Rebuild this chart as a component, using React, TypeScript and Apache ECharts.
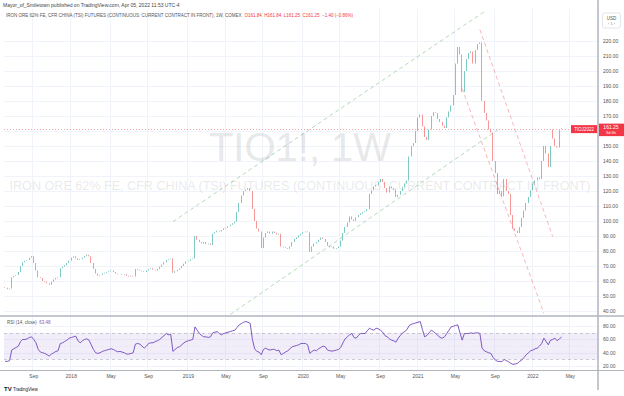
import { useEffect, useRef } from "react";
import * as echarts from "echarts";

// ---------- data ----------
const startWeek = "2017-06-05"; // Monday of first weekly bar
const emptyWeeksAfter = 16; // empty space to the right of the last bar

// weekly closes, TIO1! (USD/t)
const closes = [
  55.5, 54.5, 55.0, 62.5, 63.5, 64.0, 66.0, 70.0, 72.5, 73.5,
  74.0, 75.5, 76.5, 72.0, 67.0, 62.5, 62.0, 60.0, 59.5, 58.5,
  57.5, 59.5, 61.0, 62.0, 62.5, 68.5, 69.5, 70.5, 72.0, 73.5,
  75.5, 76.5, 75.0, 74.0, 74.5, 75.5, 76.5, 77.5, 76.5, 72.0,
  68.0, 65.0, 63.5, 64.0, 65.0, 65.5, 66.0, 66.5, 67.0, 66.0,
  65.0, 64.5, 64.5, 64.0, 64.5, 63.5, 63.0, 63.5, 63.0, 68.0,
  67.5, 67.0, 66.5, 66.0, 67.0, 68.0, 68.5, 67.5, 67.0, 68.0,
  69.5, 71.0, 72.5, 74.0, 74.5, 75.0, 65.5, 66.5, 67.5, 68.5,
  70.0, 71.5, 73.0, 73.5, 74.5, 75.0, 90.0, 87.5, 86.0, 85.0,
  86.0, 84.5, 85.0, 84.0, 91.5, 92.5, 93.5, 93.0, 94.0, 95.0,
  95.5, 96.5, 97.5, 98.5, 99.5, 106.0, 112.0, 117.0, 120.0, 121.0,
  122.0, 120.0, 108.0, 100.0, 95.0, 93.0, 82.0, 89.0, 92.0, 93.0,
  91.5, 93.0, 92.0, 91.0, 91.5, 83.0, 82.5, 82.0, 81.5, 83.0,
  86.0, 88.0, 89.0, 90.5, 91.5, 92.5, 93.0, 92.5, 79.5, 83.0,
  85.0, 86.0, 87.5, 89.0, 88.0, 86.0, 83.5, 82.5, 83.0, 81.5,
  82.0, 83.0, 87.0, 92.0, 96.0, 99.0, 103.0, 101.0, 100.0, 102.5,
  104.0, 105.0, 106.0, 106.5, 108.0, 118.0, 120.5, 123.0, 124.0, 126.0,
  128.0, 126.0, 122.0, 119.0, 123.0, 122.0, 121.0, 116.0, 117.5, 120.0,
  122.5, 125.0, 127.0, 143.0, 150.0, 152.0, 160.0, 169.0, 171.0, 163.0,
  156.0, 154.0, 161.0, 170.0, 172.5, 172.0, 168.0, 166.0, 163.5, 162.0,
  169.0, 173.0, 177.0, 184.0, 205.0, 216.0, 211.0, 186.0, 200.0, 208.0,
  212.0, 213.0, 205.0, 214.0, 218.0, 219.0, 180.0, 172.0, 167.0, 161.0,
  159.0, 140.0, 132.0, 118.0, 120.0, 116.5, 128.0, 120.0, 118.0, 104.0,
  95.0, 93.5, 92.0, 96.0, 102.0, 107.0, 112.0, 116.0, 120.5, 125.0,
  127.0, 129.0, 128.0, 140.0, 150.0, 145.0, 136.0, 150.0, 155.0, 150.0,
  149.0, 160.5, 161.25,
];

// opens that gap away from the previous close (bar index -> open)
const openGaps: Record<number, number> = { 0: 56.0, 248: 161.0, 252: 161.84 };

// RSI(14, close)
const rsi = [
  27, 27, 28, 44, 46, 48, 50, 57, 60, 60,
  61, 63, 64, 60, 55, 45, 41, 40, 39, 37,
  35, 38, 40, 42, 43, 54, 55, 57, 59, 62,
  63, 64, 65, 58, 55, 58, 60, 61, 59, 52,
  45, 40, 39, 40, 42, 43, 44, 45, 46, 45,
  43, 41.5, 42, 41, 40, 38, 38, 39, 40, 53,
  54, 53, 50, 47, 50, 54, 55, 55, 57, 58,
  60, 63, 66, 69, 67, 68, 42, 45, 48, 49,
  52, 55, 57, 58, 59, 60, 79, 74, 69, 66,
  64, 64, 63, 64, 70, 71, 72, 69, 67, 69,
  70, 71, 72, 73, 74, 78, 82, 84, 86, 87,
  86, 84, 60, 46, 42, 41, 37, 45, 47, 45,
  44, 45, 45, 43, 44, 37, 39, 41, 43, 46,
  49, 50, 51, 52, 54, 54, 54, 52, 39, 42,
  44, 43, 46, 48, 50, 49, 44, 43, 42.5, 43,
  44, 45, 48, 55, 61, 64, 67, 69, 63, 62,
  66, 69, 69, 69, 73, 77, 75, 74, 77, 76,
  74, 71, 66, 64, 61, 59, 58, 56, 62, 66,
  70, 72, 75, 81, 83, 84, 85, 86, 87, 75,
  64, 66, 70, 74, 72, 69, 66, 63, 62, 64,
  69, 74, 79, 80, 81, 82, 70, 59, 69, 69,
  69, 70, 69, 70, 70, 69, 47, 43, 41.5, 40,
  39, 33, 29, 27, 27, 26.5, 30, 28, 26.5, 24,
  22.5, 23, 24, 27, 29, 33, 37, 40, 43, 44,
  46, 47, 50, 54, 62, 57, 52, 59, 60, 62,
  58, 61, 63.48,
];

const priceGridTicks = [40, 50, 60, 70, 80, 90, 100, 110, 120, 130, 140, 150, 160, 170, 180, 190, 200, 210, 220];
// 160.00 sits under the last-price label in the reference
const priceLabelTicks = [40, 50, 60, 70, 80, 90, 100, 110, 120, 130, 140, 150, 170, 180, 190, 200, 210, 220];
const rsiTicks = [20, 40, 60, 80];
const rsiBand = [30, 70];
const rsiMiddle = 50;
const monthNames = ["Jan", "Feb", "Mar", "Apr", "May", "Jun", "Jul", "Aug", "Sep", "Oct", "Nov", "Dec"];

// drawn trend lines: [bar index, price] -> [bar index, price]
const greenLines = [
  { from: [76, 99.6], to: [218, 240.5] },
  { from: [102, 37.7], to: [223, 160.7] },
];
const redLines = [
  { from: [207, 188.3], to: [244, 38.5] },
  { from: [215, 227.6], to: [248, 89.6] },
];

const lastPrice = 161.25;
const lastRsi = 63.48;

const FONT = "'Liberation Sans', Arial, sans-serif";

export default function App() {
  const ref = useRef<HTMLDivElement>(null);

  useEffect(() => {
    const el = ref.current!;
    const chart = echarts.init(el, undefined, { renderer: "svg" });

    const n = closes.length + emptyWeeksAfter;
    const t0 = Date.parse(startWeek + "T00:00:00Z");
    const dates = Array.from({ length: n }, (_, i) =>
      new Date(t0 + i * 7 * 86400000).toISOString().slice(0, 10)
    );
    const monthOf = (i: number) => +dates[i].slice(5, 7);
    const isLabel = (i: number) => {
      if (i <= 0) return false;
      const m = monthOf(i);
      return m !== monthOf(i - 1) && (m === 1 || m === 5 || m === 9);
    };
    const labelText = (v: string) => {
      const m = +v.slice(5, 7);
      return m === 1 ? v.slice(0, 4) : monthNames[m - 1];
    };

    const candles = closes.map((c, i) => {
      const o = openGaps[i] ?? closes[i - 1];
      return [o, c, Math.min(o, c), Math.max(o, c)];
    });

    const gridColor = "#f0f3fa";
    const lineItem = (l: { from: number[]; to: number[] }, color: string) => [
      { coord: l.from, lineStyle: { color, width: 1, type: [4, 3] } },
      { coord: l.to },
    ];

    chart.setOption({
      animation: false,
      textStyle: { fontFamily: FONT },
      grid: [
        { left: 4, right: 26, top: 9, height: 307 },
        { left: 4, right: 26, top: 316, height: 54 },
      ],
      xAxis: [
        {
          type: "category",
          gridIndex: 0,
          data: dates,
          boundaryGap: true,
          axisLine: { show: false },
          axisTick: { show: false },
          axisLabel: { show: false },
          splitLine: { show: true, interval: (i: number) => isLabel(i), lineStyle: { color: gridColor, width: 1 } },
        },
        {
          type: "category",
          gridIndex: 1,
          data: dates,
          boundaryGap: true,
          axisLine: { show: false },
          axisTick: { show: false },
          axisLabel: {
            show: true,
            interval: (i: number) => isLabel(i),
            formatter: labelText,
            fontSize: 5,
            color: "#555",
            margin: 3,
          },
          splitLine: { show: true, interval: (i: number) => isLabel(i), lineStyle: { color: gridColor, width: 1 } },
        },
      ],
      yAxis: [
        {
          type: "value",
          gridIndex: 0,
          position: "right",
          min: 36.67,
          max: 241.33,
          axisLine: { show: false },
          axisTick: { show: false, customValues: priceGridTicks },
          axisLabel: {
            customValues: priceLabelTicks,
            formatter: (v: number) => v.toFixed(2),
            fontSize: 5,
            color: "#555",
            margin: 5,
          },
          splitLine: { show: true, lineStyle: { color: gridColor, width: 1 } },
        },
        {
          type: "value",
          gridIndex: 1,
          position: "right",
          min: 14,
          max: 95.4,
          axisLine: { show: false },
          axisTick: { show: false, customValues: rsiTicks },
          axisLabel: {
            customValues: rsiTicks,
            formatter: (v: number) => v.toFixed(2),
            fontSize: 5,
            color: "#555",
            margin: 5,
          },
          splitLine: { show: true, lineStyle: { color: gridColor, width: 1 } },
        },
      ],
      series: [
        {
          type: "candlestick",
          xAxisIndex: 0,
          yAxisIndex: 0,
          data: candles,
          barWidth: 1.2,
          silent: true,
          itemStyle: {
            color: "#26a69a",
            color0: "#ef5350",
            borderColor: "#26a69a",
            borderColor0: "#ef5350",
            borderWidth: 0.6,
          },
          markLine: {
            silent: true,
            symbol: ["none", "none"],
            label: { show: false },
            data: [
              ...greenLines.map((l) => lineItem(l, "rgba(120,185,130,0.55)")),
              ...redLines.map((l) => lineItem(l, "rgba(240,110,120,0.5)")),
              { yAxis: lastPrice, lineStyle: { color: "rgba(242,54,69,0.45)", width: 1, type: [1, 2] } },
            ],
          },
        },
        {
          type: "line",
          xAxisIndex: 1,
          yAxisIndex: 1,
          data: rsi,
          showSymbol: false,
          silent: true,
          lineStyle: { color: "#7e57c2", width: 1 },
          markArea: {
            silent: true,
            itemStyle: { color: "rgba(126,87,194,0.1)" },
            data: [[{ yAxis: rsiBand[0] }, { yAxis: rsiBand[1] }]],
          },
          markLine: {
            silent: true,
            symbol: ["none", "none"],
            label: { show: false },
            data: [
              { yAxis: rsiBand[1], lineStyle: { color: "rgba(120,123,134,0.5)", width: 0.7, type: [3, 3] } },
              { yAxis: rsiBand[0], lineStyle: { color: "rgba(120,123,134,0.5)", width: 0.7, type: [3, 3] } },
              { yAxis: rsiMiddle, lineStyle: { color: "rgba(120,123,134,0.15)", width: 0.7, type: [1, 2] } },
            ],
          },
        },
      ],
    });

    const [, yLast] = chart.convertToPixel({ gridIndex: 0 }, [closes.length - 1, lastPrice]) as number[];
    const grey = "#b2b5be";

    chart.setOption({
      graphic: [
        // watermark
        {
          type: "text",
          x: 300,
          y: 147,
          z: 1,
          silent: true,
          style: { text: "TIO1!, 1W", fontSize: 40, fontFamily: FONT, fill: "rgba(150,155,165,0.24)", align: "center", verticalAlign: "middle" },
        },
        {
          type: "text",
          x: 300,
          y: 186,
          z: 1,
          silent: true,
          style: {
            text: "IRON ORE 62% FE, CFR CHINA (TSI) FUTURES (CONTINUOUS: CURRENT CONTRACT IN FRONT)",
            fontSize: 12.6,
            fontFamily: FONT,
            fill: "rgba(150,155,165,0.22)",
            align: "center",
            verticalAlign: "middle",
          },
        },
        // header
        {
          type: "text",
          x: 3,
          y: 2,
          z: 20,
          style: { text: "Mayor_of_Smiletown published on TradingView.com, Apr 05, 2022 11:53 UTC-4", fontSize: 5, fontFamily: FONT, fill: "#444" },
        },
        {
          type: "text",
          x: 6,
          y: 13,
          z: 20,
          style: {
            text: "IRON ORE 62% FE, CFR CHINA (TSI) FUTURES (CONTINUOUS: CURRENT CONTRACT IN FRONT), 1W, COMEX  {r|O161.84  H161.84  L161.25  C161.25  −1.40 (−0.86%)}",
            fontSize: 4.5,
            fontFamily: FONT,
            fill: "#555",
            rich: { r: { fill: "#f23645", fontSize: 4.5, fontFamily: FONT } },
          },
        },
        // separators and right axis line
        { type: "line", z: 20, silent: true, shape: { x1: 0, y1: 316, x2: 624, y2: 316 }, style: { stroke: grey, lineWidth: 1.5 } },
        { type: "line", z: 20, silent: true, shape: { x1: 0, y1: 370.5, x2: 624, y2: 370.5 }, style: { stroke: grey, lineWidth: 1 } },
        { type: "line", z: 20, silent: true, shape: { x1: 598, y1: 0, x2: 598, y2: 390 }, style: { stroke: grey, lineWidth: 1.5 } },
        // USD badge
        {
          type: "rect",
          z: 20,
          shape: { x: 602.5, y: 13, width: 18, height: 15, r: 2 },
          style: { fill: "#fff", stroke: "#d1d4dc", lineWidth: 0.6 },
        },
        { type: "text", x: 611.5, y: 15.5, z: 21, style: { text: "USD", fontSize: 4.5, fontFamily: FONT, fill: "#555", align: "center" } },
        { type: "text", x: 611.5, y: 21.5, z: 21, style: { text: "‹ 1 ›", fontSize: 4, fontFamily: FONT, fill: "#888", align: "center" } },
        // last price label on axis
        { type: "rect", z: 20, shape: { x: 599, y: yLast - 5.5, width: 25, height: 12.5 }, style: { fill: "#f23645" } },
        { type: "text", x: 611, y: yLast - 5, z: 21, style: { text: lastPrice.toFixed(2), fontSize: 5, fontFamily: FONT, fill: "#fff", align: "center" } },
        { type: "text", x: 611, y: yLast + 1.8, z: 21, style: { text: "3d 6h", fontSize: 4, fontFamily: FONT, fill: "#fff", align: "center" } },
        // symbol label
        { type: "rect", z: 20, shape: { x: 571, y: yLast - 4, width: 26, height: 8 }, style: { fill: "#f23645" } },
        { type: "text", x: 584, y: yLast, z: 21, style: { text: "TIOJ2022", fontSize: 4.5, fontFamily: FONT, fill: "#fff", align: "center", verticalAlign: "middle" } },
        // RSI title
        {
          type: "text",
          x: 7,
          y: 320,
          z: 20,
          style: {
            text: "RSI (14, close)  {p|" + lastRsi.toFixed(2) + "}",
            fontSize: 4.5,
            fontFamily: FONT,
            fill: "#555",
            rich: { p: { fill: "#7e57c2", fontSize: 4.5, fontFamily: FONT } },
          },
        },
        // TradingView logo
        { type: "text", x: 4, y: 385.5, z: 20, style: { text: "TV", fontSize: 6, fontWeight: "bold", fontFamily: FONT, fill: "#131722" } },
        { type: "text", x: 13, y: 386.5, z: 20, style: { text: "TradingView", fontSize: 4.5, fontFamily: FONT, fill: "#131722" } },
      ],
    });

    return () => chart.dispose();
  }, []);

  return <div ref={ref} style={{ position: "absolute", left: 0, top: 0, width: 624, height: 396, background: "#fff" }} />;
}
